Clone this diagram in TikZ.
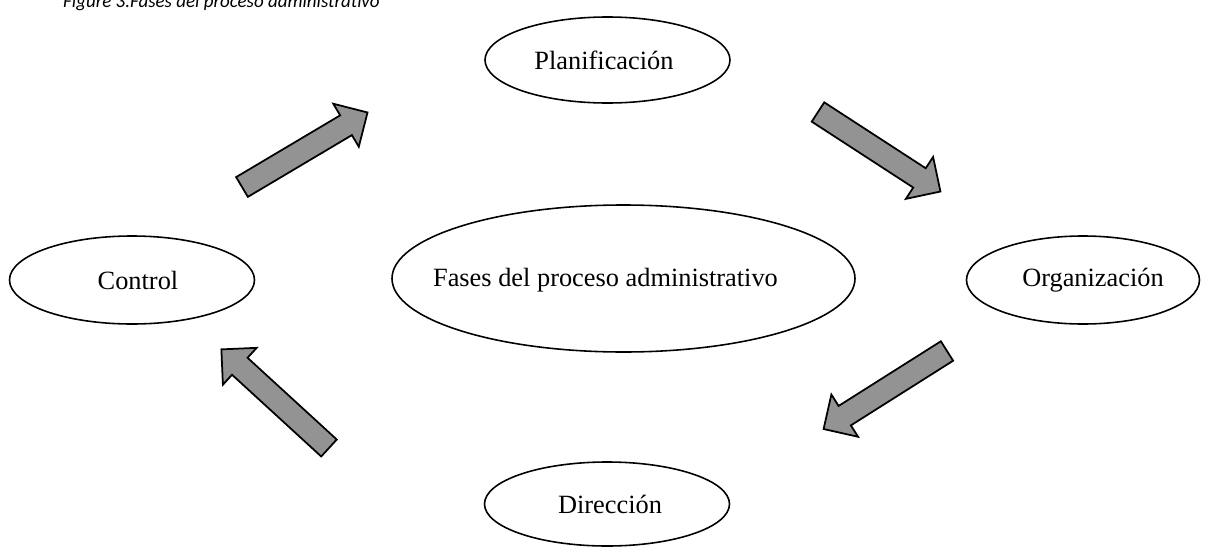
\documentclass[tikz,border=0pt]{standalone}
\usepackage{fontspec}
\usetikzlibrary{shapes.geometric}
\setmainfont{Liberation Serif}
\newfontfamily\capfont{Carlito}
\definecolor{arrowgray}{HTML}{939393}

\begin{document}
\begin{tikzpicture}[
  x=0.02cm, y=-0.02cm,
  phase/.style={draw, ellipse, line width=0.9pt, inner sep=0pt,
    minimum width=245*0.02cm, minimum height=86*0.02cm},
  phasetext/.style={inner sep=0pt, font=\fontsize{15}{18}\selectfont},
  arrowbody/.style={draw=black, line width=1pt, line join=miter, fill=arrowgray},
  blockarr/.pic={
    \path [arrowbody] (0,-11.5) -- (121,-11.5) -- (121,-25) -- (146,0)
      -- (121,25) -- (121,11.5) -- (0,11.5) -- cycle;
  }
]
\useasboundingbox (0,0) rectangle (1211,548);

\node [anchor=base west, font=\capfont\itshape\fontsize{10.8}{13}\selectfont] (caption) at (57,7.5) {Figure 3.Fases del proceso administrativo};

% ellipses
\node [phase] (plan) at (607.5,60) {};
\node [phase, minimum height=88*0.02cm] (control) at (132,280) {};
\node [phase, minimum width=233*0.02cm, minimum height=88*0.02cm] (org) at (1083,280) {};
\node [phase, minimum height=84*0.02cm] (dir) at (607,504) {};
\node [phase, minimum width=463*0.02cm, minimum height=147*0.02cm] (center) at (623.5,278.5) {};

% texts
\node [phasetext, xshift=-0.07cm] (plantext) at (plan) {Planificaci\'on};
\node [phasetext, xshift=0.12cm] (controltext) at (control) {Control};
\node [phasetext, xshift=0.2cm] (orgtext) at (org) {Organizaci\'on};
\node [phasetext, xshift=0.06cm] (dirtext) at (dir) {Direcci\'on};
\node [phasetext, xshift=-0.36cm, yshift=-0.04cm] (centertext) at (center) {Fases del proceso administrativo};

% arrows
\pic [rotate=30.7] at (242,187) {blockarr};
\pic [rotate=-33] at (818,112) {blockarr};
\pic [rotate=212.3] at (947,351) {blockarr};
\pic [rotate=137.5] at (329,448) {blockarr};
\end{tikzpicture}
\end{document}
